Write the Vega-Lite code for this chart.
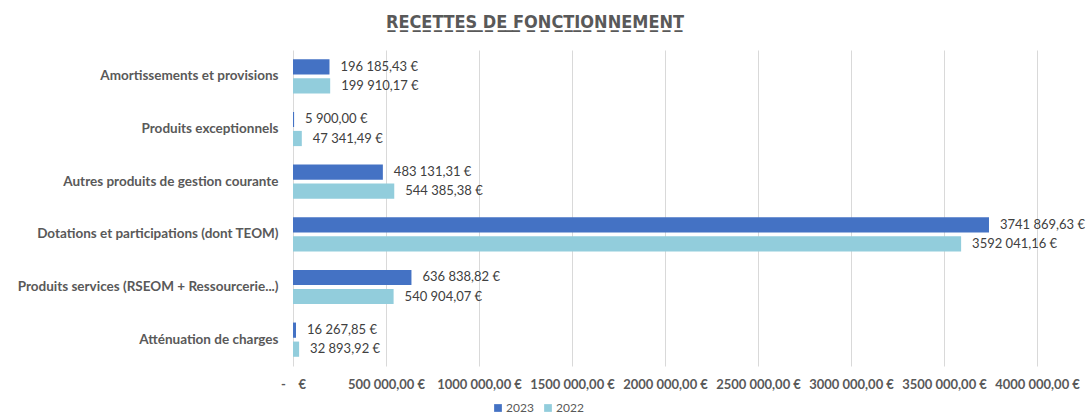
{
  "$schema": "https://vega.github.io/schema/vega-lite/v6.json",
  "autosize": {"type": "none"},
  "width": 744,
  "height": 316,
  "padding": {"left": 293, "top": 50, "right": 54, "bottom": 50},
  "background": "white",
  "title": {
    "text": "R̲E̲C̲E̲T̲T̲E̲S̲ ̲D̲E̲ ̲F̲O̲N̲C̲T̲I̲O̲N̲N̲E̲M̲E̲N̲T̲",
    "anchor": "middle",
    "dx": -130,
    "offset": 18,
    "font": "DejaVu Sans Condensed",
    "fontSize": 18,
    "fontWeight": "bold",
    "color": "#595959"
  },
  "config": {
    "locale": {
      "number": {
        "decimal": ",",
        "thousands": " ",
        "grouping": [3, 6],
        "currency": ["", " €"]
      }
    },
    "view": {"stroke": null},
    "font": "Lato"
  },
  "data": {
    "values": [
      {"cat": "Amortissements et provisions", "year": "2023", "value": 196185.43},
      {"cat": "Amortissements et provisions", "year": "2022", "value": 199910.17},
      {"cat": "Produits exceptionnels", "year": "2023", "value": 5900.00},
      {"cat": "Produits exceptionnels", "year": "2022", "value": 47341.49},
      {"cat": "Autres produits de gestion courante", "year": "2023", "value": 483131.31},
      {"cat": "Autres produits de gestion courante", "year": "2022", "value": 544385.38},
      {"cat": "Dotations et participations (dont TEOM)", "year": "2023", "value": 3741869.63},
      {"cat": "Dotations et participations (dont TEOM)", "year": "2022", "value": 3592041.16},
      {"cat": "Produits services (RSEOM + Ressourcerie...)", "year": "2023", "value": 636838.82},
      {"cat": "Produits services (RSEOM + Ressourcerie...)", "year": "2022", "value": 540904.07},
      {"cat": "Atténuation de charges", "year": "2023", "value": 16267.85},
      {"cat": "Atténuation de charges", "year": "2022", "value": 32893.92}
    ]
  },
  "encoding": {
    "y": {
      "field": "cat",
      "type": "nominal",
      "sort": [
        "Amortissements et provisions",
        "Produits exceptionnels",
        "Autres produits de gestion courante",
        "Dotations et participations (dont TEOM)",
        "Produits services (RSEOM + Ressourcerie...)",
        "Atténuation de charges"
      ],
      "scale": {"paddingInner": 0.35, "paddingOuter": 0.175},
      "axis": {
        "title": null,
        "domain": false,
        "ticks": false,
        "labelPadding": 15,
        "labelFont": "Lato",
        "labelFontSize": 13.5,
        "labelFontWeight": "bold",
        "labelColor": "#595959",
        "labelLimit": 400
      }
    },
    "yOffset": {
      "field": "year",
      "type": "nominal",
      "sort": ["2023", "2022"],
      "scale": {"paddingInner": 0.2, "paddingOuter": 0}
    },
    "x": {
      "field": "value",
      "type": "quantitative",
      "scale": {"domain": [0, 4000000], "nice": false},
      "axis": {
        "title": null,
        "domain": false,
        "ticks": false,
        "values": [0, 500000, 1000000, 1500000, 2000000, 2500000, 3000000, 3500000, 4000000],
        "format": "$,.2f",
        "labelExpr": "datum.value === 0 ? '-\u00a0\u00a0\u00a0\u00a0€' : datum.label",
        "labelOverlap": false,
        "labelFlush": false,
        "labelPadding": 12,
        "labelFont": "Lato",
        "labelFontSize": 13,
        "labelFontWeight": "bold",
        "labelColor": "#595959",
        "gridColor": "#d9d9d9",
        "gridWidth": 1
      }
    }
  },
  "layer": [
    {
      "mark": {"type": "bar"},
      "encoding": {
        "color": {
          "field": "year",
          "type": "nominal",
          "sort": ["2023", "2022"],
          "scale": {"domain": ["2023", "2022"], "range": ["#4472C4", "#92CDDC"]},
          "legend": {
            "title": null,
            "orient": "none",
            "legendX": 199,
            "legendY": 352,
            "direction": "horizontal",
            "symbolType": "square",
            "symbolSize": 60,
            "symbolStrokeWidth": 0,
            "labelFont": "Lato",
            "labelFontSize": 12,
            "labelColor": "#595959",
            "columnPadding": 8,
            "labelOffset": 2
          }
        }
      }
    },
    {
      "mark": {"type": "text", "align": "left", "baseline": "middle", "dx": 11, "fontSize": 13, "font": "Lato", "color": "#404040"},
      "encoding": {
        "text": {"field": "value", "type": "quantitative", "format": "$,.2f"}
      }
    }
  ]
}
